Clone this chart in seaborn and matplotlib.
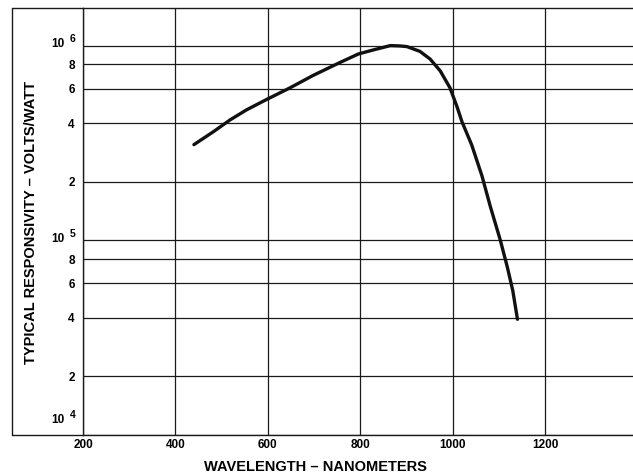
import matplotlib
matplotlib.use("Agg")
import matplotlib.pyplot as plt
from matplotlib.lines import Line2D
import pandas as pd
import seaborn as sns

# Curve (wavelength nm, responsivity V/W)
wavelength = [440, 482, 518, 554, 596, 648, 698, 756, 796, 828, 865, 886, 901,
              929, 951, 973, 994, 1009, 1020, 1041, 1063, 1081, 1103, 1118, 1130, 1140]
responsivity = [3.10e5, 3.61e5, 4.15e5, 4.68e5, 5.27e5, 6.07e5, 7.03e5, 8.19e5,
                9.06e5, 9.5e5, 1.0e6, 9.96e5, 9.88e5, 9.34e5, 8.53e5, 7.41e5, 6.07e5,
                4.87e5, 4.06e5, 3.09e5, 2.15e5, 1.50e5, 1.0e5, 7.3e4, 5.5e4, 3.93e4]

x_ticks = [200, 400, 600, 800, 1000, 1200]
minor_y = [2e4, 4e4, 6e4, 8e4, 2e5, 4e5, 6e5, 8e5]
minor_labels = ["2", "4", "6", "8", "2", "4", "6", "8"]
decades = [1e4, 1e5, 1e6]
decade_exp = ["4", "5", "6"]

df = pd.DataFrame({"wavelength": wavelength, "responsivity": responsivity})

sns.set_style("white")
plt.rcParams["font.family"] = ["Liberation Sans", "DejaVu Sans"]
plt.rcParams["font.weight"] = "bold"
plt.rcParams["text.color"] = "black"
plt.rcParams["xtick.color"] = "black"
plt.rcParams["ytick.color"] = "black"

fig = plt.figure(figsize=(6.33, 4.74), dpi=100)
ax = fig.add_axes([83 / 633, 39 / 474, 550 / 633, 427 / 474])

sns.lineplot(data=df, x="wavelength", y="responsivity", ax=ax,
             color="#111111", linewidth=2.4, sort=False)

ax.set_yscale("log")
ax.set_xlim(200, 1390)
ax.set_ylim(1e4, 1.56e6)

ax.set_xticks(x_ticks)
ax.set_xticklabels([str(t) for t in x_ticks], fontsize=8.5, fontweight="bold")
ax.tick_params(axis="x", length=0, pad=3)

ax.set_yticks(minor_y + decades)
ax.set_yticklabels(minor_labels + [""] * len(decades), fontsize=8.5, fontweight="bold")
ax.yaxis.set_minor_locator(matplotlib.ticker.NullLocator())
ax.tick_params(axis="y", length=0, pad=6)

# decade labels "10" with raised exponent
for val, e in zip(decades, decade_exp):
    lift = 10 if val == decades[0] else 0
    ax.annotate("10", xy=(0, val), xycoords=("axes fraction", "data"),
                xytext=(-13, 1 + lift), textcoords="offset points",
                ha="right", va="center", fontsize=8.5, fontweight="bold")
    ax.annotate(e, xy=(0, val), xycoords=("axes fraction", "data"),
                xytext=(-5.5, 4.5 + lift), textcoords="offset points",
                ha="right", va="center", fontsize=7.5, fontweight="bold")

ax.grid(True, which="major", color="#1a1a1a", linewidth=0.9)
for s in ax.spines.values():
    s.set_color("#1a1a1a")
    s.set_linewidth(1.0)
ax.spines["right"].set_visible(False)

ax.set_xlabel("")
ax.set_ylabel("")
fig.text(204 / 633, 1 - 467 / 474, "WAVELENGTH \u2013 NANOMETERS", fontsize=10.5,
         fontweight="bold", ha="left", va="center")
fig.text(31 / 633, 1 - 222 / 474, "TYPICAL RESPONSIVITY \u2013 VOLTS/WATT",
         fontsize=10.5, fontweight="bold", rotation=90, ha="center", va="center")

# outer frame around the label area
x0, y_top, y_bot = 12 / 633, 1 - 8 / 474, 39 / 474
for xs, ys in [([x0, x0], [y_bot, y_top]), ([x0, 83 / 633], [y_top, y_top]),
               ([x0, 83 / 633], [y_bot, y_bot])]:
    fig.add_artist(Line2D(xs, ys, color="#1a1a1a", linewidth=1.0,
                          transform=fig.transFigure))

fig.savefig("out.png", dpi=100)
